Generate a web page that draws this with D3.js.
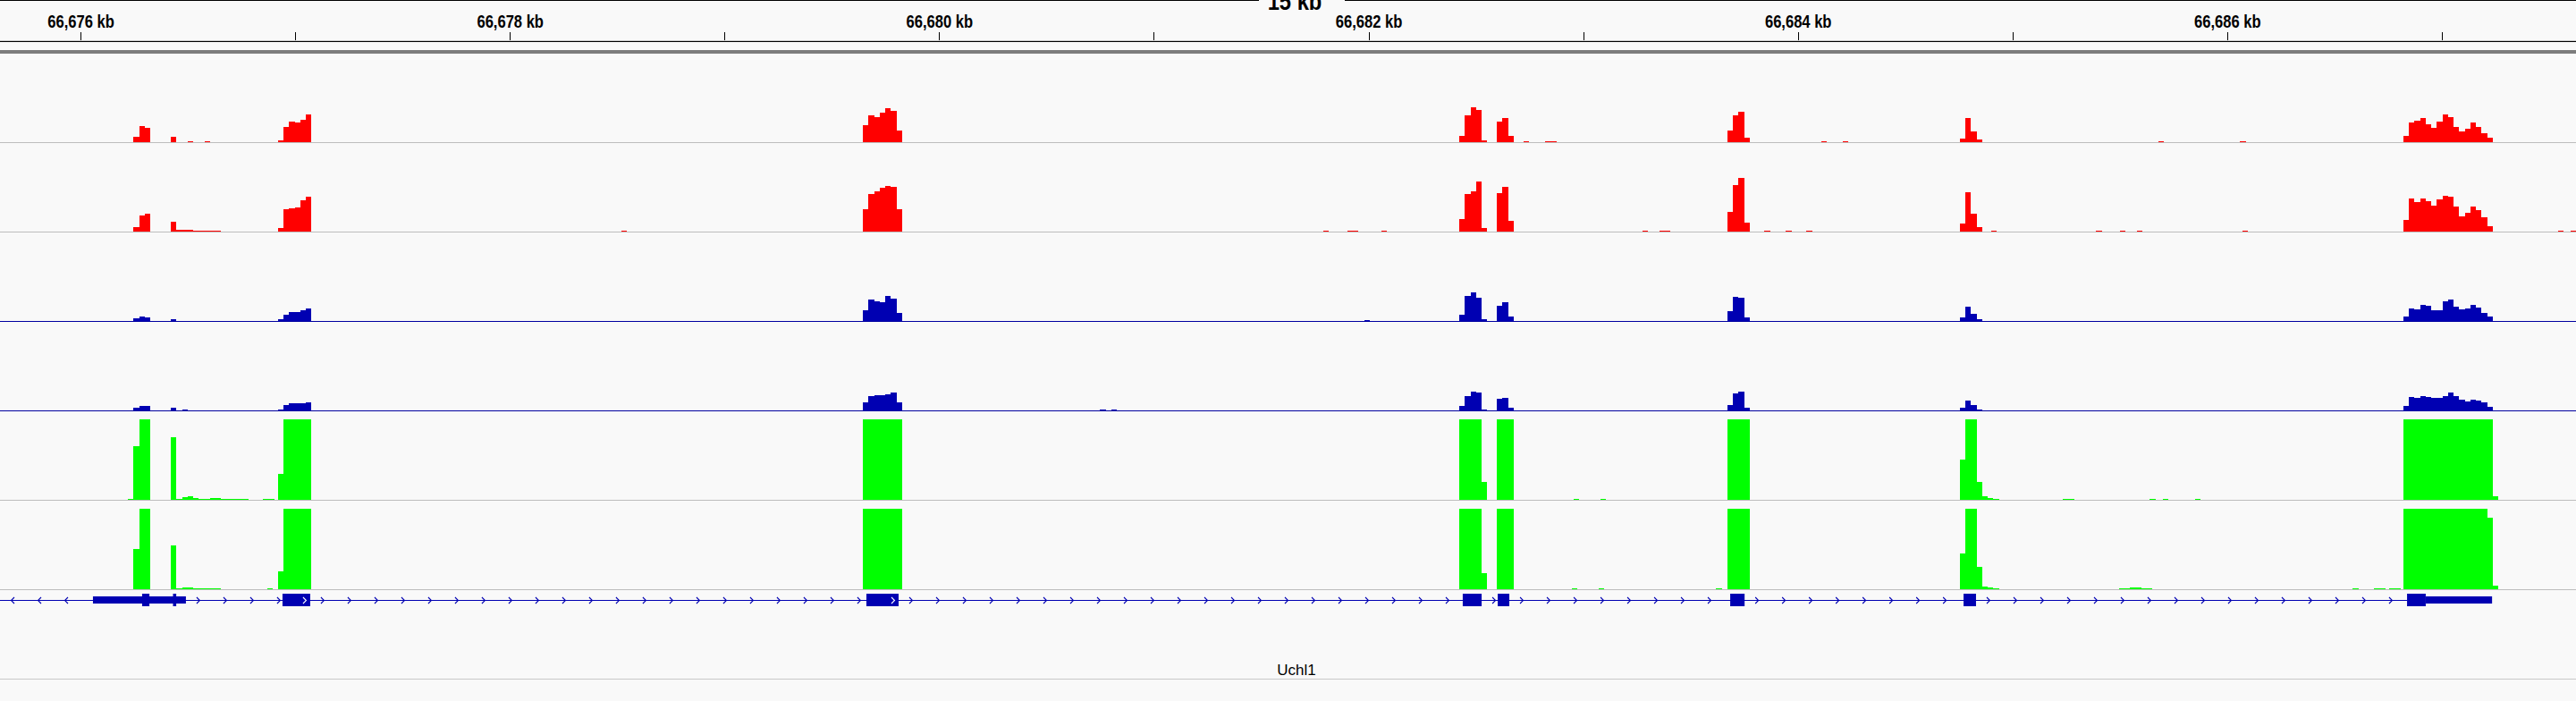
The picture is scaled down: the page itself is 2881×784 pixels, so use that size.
<!DOCTYPE html>
<html><head><meta charset="utf-8">
<script src="https://cdn.jsdelivr.net/npm/d3@7/dist/d3.min.js"></script>
<style>body{margin:0;background:#f9f9f9;overflow:hidden}svg{display:block}</style>
</head><body>
<svg id="chart" width="2881" height="784"></svg>
<script>
// ---------------- data ----------------
const regionStart = 66675625;          // bp at left edge
const regionEnd   = 66687625;          // bp at right edge
const binSize     = 26;                // bp per coverage bin
const spanLabel   = "15 kb";
const rulerTicks  = [66676000,66677000,66678000,66679000,66680000,66681000,66682000,66683000,66684000,66685000,66686000,66687000];
const rulerLabels = [66676000,66678000,66680000,66682000,66684000,66686000];
const geneName    = "Uchl1";

// coverage segments: [start bp, [bin values...]]
const redTrack1 = [
  [66676221,[0,6,18,16]],
  [66676421,[6,0,0,1,0,0,1]],
  [66676920,[2,17,23,22,25,31]],
  [66679645,[19,30,28,33,38,35,13]],
  [66682423,[7,30,39,36,2]],
  [66682598,[23,27,7]],
  [66682723,[1]],
  [66682823,[1,1]],
  [66683672,[13,30,34,5]],
  [66684110,[1]],
  [66684210,[1]],
  [66684755,[4,27,12,3]],
  [66685680,[1]],
  [66686060,[1]],
  [66686821,[7,22,24,27,20,16,23,31,28,17,12,15,22,17,10,5]]
];
const redTrack2 = [
  [66676221,[0,5,18,20]],
  [66676421,[11,2,2,2,1,1,1,1,1]],
  [66676920,[4,25,26,27,35,39]],
  [66678520,[1]],
  [66679645,[25,42,45,49,51,50,25]],
  [66681790,[1]],
  [66681900,[1,1]],
  [66682060,[1]],
  [66682423,[14,42,45,56,4]],
  [66682598,[43,50,12]],
  [66683275,[1]],
  [66683355,[1,1]],
  [66683672,[22,52,60,10]],
  [66683845,[1]],
  [66683945,[1]],
  [66684040,[1]],
  [66684755,[9,44,20,5]],
  [66684900,[1]],
  [66685390,[1]],
  [66685500,[1]],
  [66685580,[1]],
  [66686070,[1]],
  [66687540,[1]],
  [66687600,[1]],
  [66686821,[13,37,33,37,34,29,36,40,39,28,17,21,28,24,16,6]]
];
const blueTrack1 = [
  [66676221,[0,3,5,4]],
  [66676421,[2]],
  [66676920,[2,7,10,10,12,14]],
  [66679645,[12,24,22,21,28,25,9]],
  [66681980,[1]],
  [66682423,[7,28,32,26,2]],
  [66682598,[17,21,5]],
  [66683672,[11,27,26,4]],
  [66684755,[4,16,8,2]],
  [66686821,[5,14,13,18,17,12,12,22,24,16,13,14,18,15,9,5]]
];
const blueTrack2 = [
  [66676221,[0,3,5,5]],
  [66676421,[3,0,1]],
  [66676920,[1,6,8,8,8,9]],
  [66679645,[9,16,17,17,18,20,9]],
  [66680750,[1,0,1]],
  [66682423,[5,16,21,20,1]],
  [66682598,[13,14,3]],
  [66683672,[6,19,21,3]],
  [66684755,[3,11,6,1]],
  [66686821,[5,15,14,16,15,14,14,16,20,16,12,10,12,11,9,4]]
];
const greenTrack1 = [
  [66676221,[1,60,95,95]],
  [66676421,[70,1,3,4,2,1,1,2,2,1,1,1,1,1]],
  [66676850,[1,1]],
  [66676920,[29,95,95,95,95,95]],
  [66679645,[95,95,95,95,95,95,95]],
  [66682423,[95,95,95,95,20]],
  [66682598,[95,95,95]],
  [66682955,[1]],
  [66683080,[1]],
  [66683672,[95,95,95,95]],
  [66684755,[45,95,95,20,4,2,1]],
  [66685235,[1,1]],
  [66685640,[1]],
  [66685700,[1]],
  [66685850,[1]],
  [66686821,[95,95,95,95,95,95,95,95,95,95,95,95,95,95,95,95,4]]
];
const greenTrack2 = [
  [66676221,[0,45,95,95]],
  [66676421,[49,1,2,2,1,1,1,1,1]],
  [66676870,[1]],
  [66676920,[20,95,95,95,95,95]],
  [66679645,[95,95,95,95,95,95,95]],
  [66682423,[95,95,95,95,18]],
  [66682598,[95,95,95]],
  [66682947,[1]],
  [66683072,[1]],
  [66683620,[1]],
  [66683672,[95,95,95,95]],
  [66684755,[40,95,95,25,3,2,1]],
  [66685495,[1,1,2,2,1,1]],
  [66686585,[1]],
  [66686685,[1,1]],
  [66686755,[1,1]],
  [66686821,[95,95,95,95,95,95,95,95,95,95,95,95,95,95,95,80,4]]
];

// gene model (bp)
const geneLineMinus = [66675625, 66676058];
const geneLinePlus  = [66676058, 66686838];
const utrBlocks   = [[66676058,66676491],[66686925,66687234]];
const codingBlocks = [[66676287,66676321],[66676431,66676446],[66676941,66677070],[66679661,66679811],
                      [66682439,66682527],[66682602,66682656],[66683685,66683752],[66684772,66684830],[66686838,66686925]];

// ---------------- drawing ----------------
const W = 2881, H = 784;
const BG = "#f9f9f9";
const svg = d3.select("#chart");
svg.append("rect").attr("width",W).attr("height",H).attr("fill",BG);

const x = d3.scaleLinear().domain([regionStart, regionEnd]).range([0, W]);
const rulerFont = "'Liberation Sans Narrow','Liberation Sans',Arial,sans-serif";

// ruler
svg.append("line").attr("x1",0).attr("x2",1408).attr("y1",0.5).attr("y2",0.5).attr("stroke","#000");
svg.append("line").attr("x1",1504).attr("x2",W).attr("y1",0.5).attr("y2",0.5).attr("stroke","#000");
svg.append("text").attr("transform","translate(1448,11) scale(0.88,1)").attr("text-anchor","middle")
   .attr("font-family",rulerFont).attr("font-weight","bold").attr("font-size",27).attr("fill","#000").text(spanLabel);

const axis = d3.axisTop(x).tickValues(rulerTicks).tickSize(9).tickPadding(5)
  .tickFormat(d => rulerLabels.includes(d) ? d3.format(",")(d/1000) + " kb" : "");
const ag = svg.append("g").attr("transform","translate(0,45)").call(axis);
ag.select(".domain").remove();
ag.selectAll(".tick line").attr("stroke","#000").attr("shape-rendering","crispEdges");
ag.selectAll(".tick text").attr("font-family",rulerFont).attr("font-weight","bold")
  .attr("font-size",19.5).attr("fill","#000").attr("transform","scale(0.85,1)");
svg.append("line").attr("x1",0).attr("x2",W).attr("y1",45.5).attr("y2",45.5).attr("stroke","#c8c8c8");
svg.append("line").attr("x1",0).attr("x2",W).attr("y1",46.5).attr("y2",46.5).attr("stroke","#000");
svg.append("rect").attr("x",0).attr("y",56).attr("width",W).attr("height",4).attr("fill","#7d7d7d");

// coverage tracks
const tracks = [
  {data: redTrack1,  base: 159, max: 100, h: 100, color: "#ff0000", line: "#bdbdbd"},
  {data: redTrack2,  base: 259, max: 100, h: 100, color: "#ff0000", line: "#bdbdbd"},
  {data: blueTrack1, base: 359, max: 100, h: 100, color: "#0000b2", line: "#0000a0"},
  {data: blueTrack2, base: 459, max: 100, h: 100, color: "#0000b2", line: "#0000a0"},
  {data: greenTrack1,base: 559, max: 90,  h: 90,  color: "#00ff00", line: "#bdbdbd"},
  {data: greenTrack2,base: 659, max: 90,  h: 90,  color: "#00ff00", line: "#bdbdbd"}
];
tracks.forEach(t => {
  const y = d3.scaleLinear().domain([0, t.max]).range([t.base, t.base - t.h]).clamp(true);
  const bins = [];
  t.data.forEach(([start, vals]) => vals.forEach((v, i) => {
    if (v > 0) bins.push({s: start + i*binSize, e: start + (i+1)*binSize, v});
  }));
  svg.append("line").attr("x1",0).attr("x2",W).attr("y1",t.base+0.5).attr("y2",t.base+0.5)
     .attr("stroke",t.line).attr("shape-rendering","crispEdges");
  svg.append("g").selectAll("rect").data(bins).join("rect")
    .attr("x", d => Math.round(x(d.s)))
    .attr("width", d => Math.max(1, Math.round(x(d.e)) - Math.round(x(d.s))))
    .attr("y", d => Math.round(y(d.v)))
    .attr("height", d => t.base - Math.round(y(d.v)))
    .attr("fill", t.color).attr("shape-rendering","crispEdges");
});

// gene track
const GC = "#0000b2";
const gy = 671.5;
const gg = svg.append("g");
gg.append("line").attr("x1",x(geneLineMinus[0])).attr("x2",x(geneLinePlus[1])).attr("y1",gy).attr("y2",gy)
  .attr("stroke",GC).attr("stroke-width",1.2);
const blocks = utrBlocks.concat(codingBlocks).map(b => [x(b[0]), x(b[1])]).sort((a,b)=>a[0]-b[0]);
function chevrons(a, b, dir) {
  const pts = [];
  for (let cx = a + 14; cx < b - 4; cx += 30) pts.push(cx);
  gg.selectAll(null).data(pts).join("path")
    .attr("d", cx => dir > 0 ? `M${cx-2},${gy-3.5}L${cx+1.5},${gy}L${cx-2},${gy+3.5}` : `M${cx+2},${gy-3.5}L${cx-1.5},${gy}L${cx+2},${gy+3.5}`)
    .attr("fill","none").attr("stroke",GC).attr("stroke-width",1.1);
}
chevrons(x(geneLineMinus[0]), x(geneLineMinus[1]), -1);
let prevEnd = x(geneLinePlus[0]);
blocks.forEach(b => {
  if (b[0] > prevEnd + 2) chevrons(prevEnd, b[0], 1);
  prevEnd = Math.max(prevEnd, b[1]);
});
gg.selectAll("rect.utr").data(utrBlocks).join("rect").attr("class","utr")
  .attr("x", d => x(d[0])).attr("width", d => x(d[1]) - x(d[0]))
  .attr("y", 667).attr("height", 8).attr("fill", GC);
gg.selectAll("rect.cds").data(codingBlocks).join("rect").attr("class","cds")
  .attr("x", d => x(d[0])).attr("width", d => x(d[1]) - x(d[0]))
  .attr("y", 664).attr("height", 14).attr("fill", GC);
[codingBlocks[2], codingBlocks[3]].forEach(d => {
  const cx = x(d[1]) - 6;
  gg.append("path").attr("d", `M${cx-2},${gy-3.5}L${cx+1.5},${gy}L${cx-2},${gy+3.5}`)
    .attr("fill","none").attr("stroke","#fff").attr("stroke-width",1.1);
});
svg.append("text").attr("x",1450).attr("y",755).attr("text-anchor","middle")
  .attr("font-family","'Liberation Sans',Arial,sans-serif").attr("font-size",17).attr("fill","#000").text(geneName);
svg.append("line").attr("x1",0).attr("x2",W).attr("y1",759.5).attr("y2",759.5).attr("stroke","#c8c8c8");
</script>
</body></html>
